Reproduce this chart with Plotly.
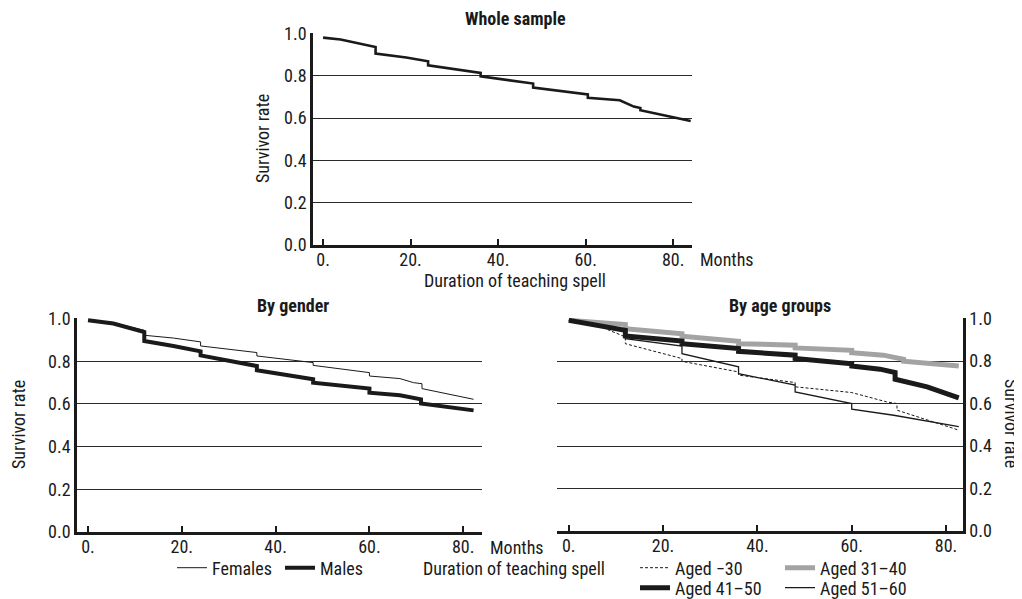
import plotly.graph_objects as go

# ---------------- data ----------------
whole_t = [0, 4, 12, 12, 19, 24, 24, 36, 36, 48, 48, 60.5, 60.5, 67.8, 71, 72.5, 72.5, 80, 84]
whole_s = [0.981, 0.972, 0.937, 0.906, 0.887, 0.869, 0.850, 0.814, 0.798, 0.764, 0.745,
           0.712, 0.696, 0.685, 0.655, 0.648, 0.638, 0.606, 0.587]

fem_t = [0, 5.4, 12, 12, 18.2, 24, 24, 36, 36, 48, 48, 60, 60, 66.5, 69.4, 71.2, 71.2, 82.2]
fem_s = [0.992, 0.981, 0.945, 0.922, 0.909, 0.891, 0.872, 0.841, 0.825, 0.794, 0.781,
         0.747, 0.731, 0.719, 0.700, 0.695, 0.672, 0.622]

male_t = [0, 5.4, 12, 12, 18.2, 24, 24, 36, 36, 48, 48, 60, 60, 66.5, 71, 71, 82.2]
male_s = [0.992, 0.977, 0.9375, 0.895, 0.872, 0.847, 0.828, 0.778, 0.758, 0.716, 0.700,
          0.672, 0.653, 0.641, 0.622, 0.602, 0.570]

a30_t = [0, 5.2, 12, 12, 24, 24, 36, 36, 48, 48, 60, 67.4, 69.6, 69.6, 82.7]
a30_s = [0.992, 0.976, 0.914, 0.882, 0.812, 0.799, 0.749, 0.734, 0.699, 0.679, 0.652,
         0.608, 0.600, 0.569, 0.475]

a31_t = [0, 12, 12, 24, 24, 36, 36, 48, 48, 60, 60, 66.7, 71, 71, 82.7]
a31_s = [0.992, 0.972, 0.953, 0.929, 0.917, 0.893, 0.882, 0.875, 0.862, 0.851, 0.840,
         0.828, 0.809, 0.799, 0.777]

a41_t = [0, 6.6, 12, 12, 24, 24, 36, 36, 48, 48, 60, 60, 66, 69.2, 69.2, 76, 82.7]
a41_s = [0.992, 0.969, 0.945, 0.918, 0.895, 0.882, 0.859, 0.846, 0.828, 0.812, 0.788,
         0.777, 0.762, 0.746, 0.715, 0.679, 0.627]

a51_t = [0, 6.6, 12, 12, 24, 24, 36, 36, 48, 48, 60, 60, 68.9, 82.7]
a51_s = [0.992, 0.972, 0.940, 0.906, 0.871, 0.835, 0.773, 0.741, 0.687, 0.655, 0.600,
         0.574, 0.545, 0.491]

x_tickvals = [0, 20, 40, 60, 80]
x_ticktext = ["0.", "20.", "40.", "60.", "80."]
y_tickvals = [0, 0.2, 0.4, 0.6, 0.8, 1.0]

# ---------------- figure ----------------
OFF = 8                      # page body margin
W, H = 1022 - OFF, 599 - OFF
FONT = "Liberation Sans Narrow, Roboto Condensed, DejaVu Sans Condensed, Liberation Sans, Arial, sans-serif"
FS = 18

def px(x):
    return (x - OFF) / W

def py(y):
    return 1 - (y - OFF) / H

fig = go.Figure()

fig.add_trace(go.Scatter(x=whole_t, y=whole_s, mode="lines", xaxis="x", yaxis="y",
                         line=dict(color="#1a1a1a", width=2.6), showlegend=False))

fig.add_trace(go.Scatter(x=fem_t, y=fem_s, mode="lines", xaxis="x2", yaxis="y2", name="Females",
                         line=dict(color="#1a1a1a", width=1), legend="legend"))
fig.add_trace(go.Scatter(x=male_t, y=male_s, mode="lines", xaxis="x2", yaxis="y2", name="Males",
                         line=dict(color="#1a1a1a", width=4), legend="legend"))

fig.add_trace(go.Scatter(x=a30_t, y=a30_s, mode="lines", xaxis="x3", yaxis="y3", name="Aged \u221230",
                         line=dict(color="#1a1a1a", width=1, dash="3px,2px"), legend="legend2"))
fig.add_trace(go.Scatter(x=a31_t, y=a31_s, mode="lines", xaxis="x3", yaxis="y3", name="Aged 31\u201340",
                         line=dict(color="#a3a3a3", width=5), legend="legend2"))
fig.add_trace(go.Scatter(x=a41_t, y=a41_s, mode="lines", xaxis="x3", yaxis="y3", name="Aged 41\u201350",
                         line=dict(color="#1a1a1a", width=5), legend="legend3"))
fig.add_trace(go.Scatter(x=a51_t, y=a51_s, mode="lines", xaxis="x3", yaxis="y3", name="Aged 51\u201360",
                         line=dict(color="#1a1a1a", width=1.3), legend="legend3"))

def xaxis(domain, rng, anchor):
    return dict(domain=domain, range=rng, anchor=anchor, tickvals=x_tickvals, ticktext=x_ticktext,
                showgrid=False, zeroline=False, showline=True, linecolor="#1a1a1a", linewidth=2.5,
                ticks="inside", ticklen=6, tickwidth=2, tickcolor="#1a1a1a", ticklabelstandoff=-3,
                tickfont=dict(size=FS, color="#1a1a1a", family=FONT))

def yaxis(domain, anchor, side="left"):
    return dict(domain=domain, range=[0, 1.003], anchor=anchor, side=side, tickvals=y_tickvals,
                tickformat=".1f", showgrid=True, gridcolor="#2a2a2a", gridwidth=1,
                zeroline=False, showline=True, linecolor="#1a1a1a", linewidth=2.5,
                ticks="", tickfont=dict(size=FS, color="#1a1a1a", family=FONT))

leg_common = dict(orientation="h", xanchor="left", yanchor="middle", bgcolor="rgba(0,0,0,0)",
                  entrywidthmode="pixels", font=dict(size=FS, family=FONT), itemwidth=30)

fig.update_layout(
    width=W, height=H,
    margin=dict(l=0, r=0, t=0, b=0, autoexpand=False),
    paper_bgcolor="white", plot_bgcolor="white",
    font=dict(family=FONT, size=FS, color="#1a1a1a"),
    xaxis=xaxis([px(313), px(692)], [-2.3, 84.3], "y"),
    yaxis=yaxis([py(245), py(33)], "x"),
    xaxis2=xaxis([px(77), px(482)], [-2.35, 84], "y2"),
    yaxis2=yaxis([py(532), py(318)], "x2"),
    xaxis3=xaxis([px(557), px(963)], [-2.5, 83.6], "y3"),
    yaxis3=yaxis([py(531), py(318)], "x3", side="right"),
    legend=dict(x=px(172), y=py(568), entrywidth=63, **leg_common),
    legend2=dict(x=px(635), y=py(568), entrywidth=100, **leg_common),
    legend3=dict(x=px(635), y=py(588), entrywidth=100, **leg_common),
)

def ann(text, x, y, angle=0, bold=False):
    fig.add_annotation(text=f"<b>{text}</b>" if bold else text, x=px(x), y=py(y),
                       xref="paper", yref="paper", showarrow=False, textangle=angle,
                       xanchor="center", yanchor="middle",
                       font=dict(size=FS, family=FONT, color="#1a1a1a"))

ann("Whole sample", 515, 19, bold=True)
ann("By gender", 293, 305, bold=True)
ann("By age groups", 780, 305, bold=True)
ann("Survivor rate", 262, 139, angle=-90)
ann("Survivor rate", 18, 425, angle=-90)
ann("Survivor rate", 1012, 423, angle=90)
ann("Months", 727, 260)
ann("Duration of teaching spell", 515, 281)
ann("Months", 517, 547)
ann("Duration of teaching spell", 514, 568)

fig.write_html("out.html")
